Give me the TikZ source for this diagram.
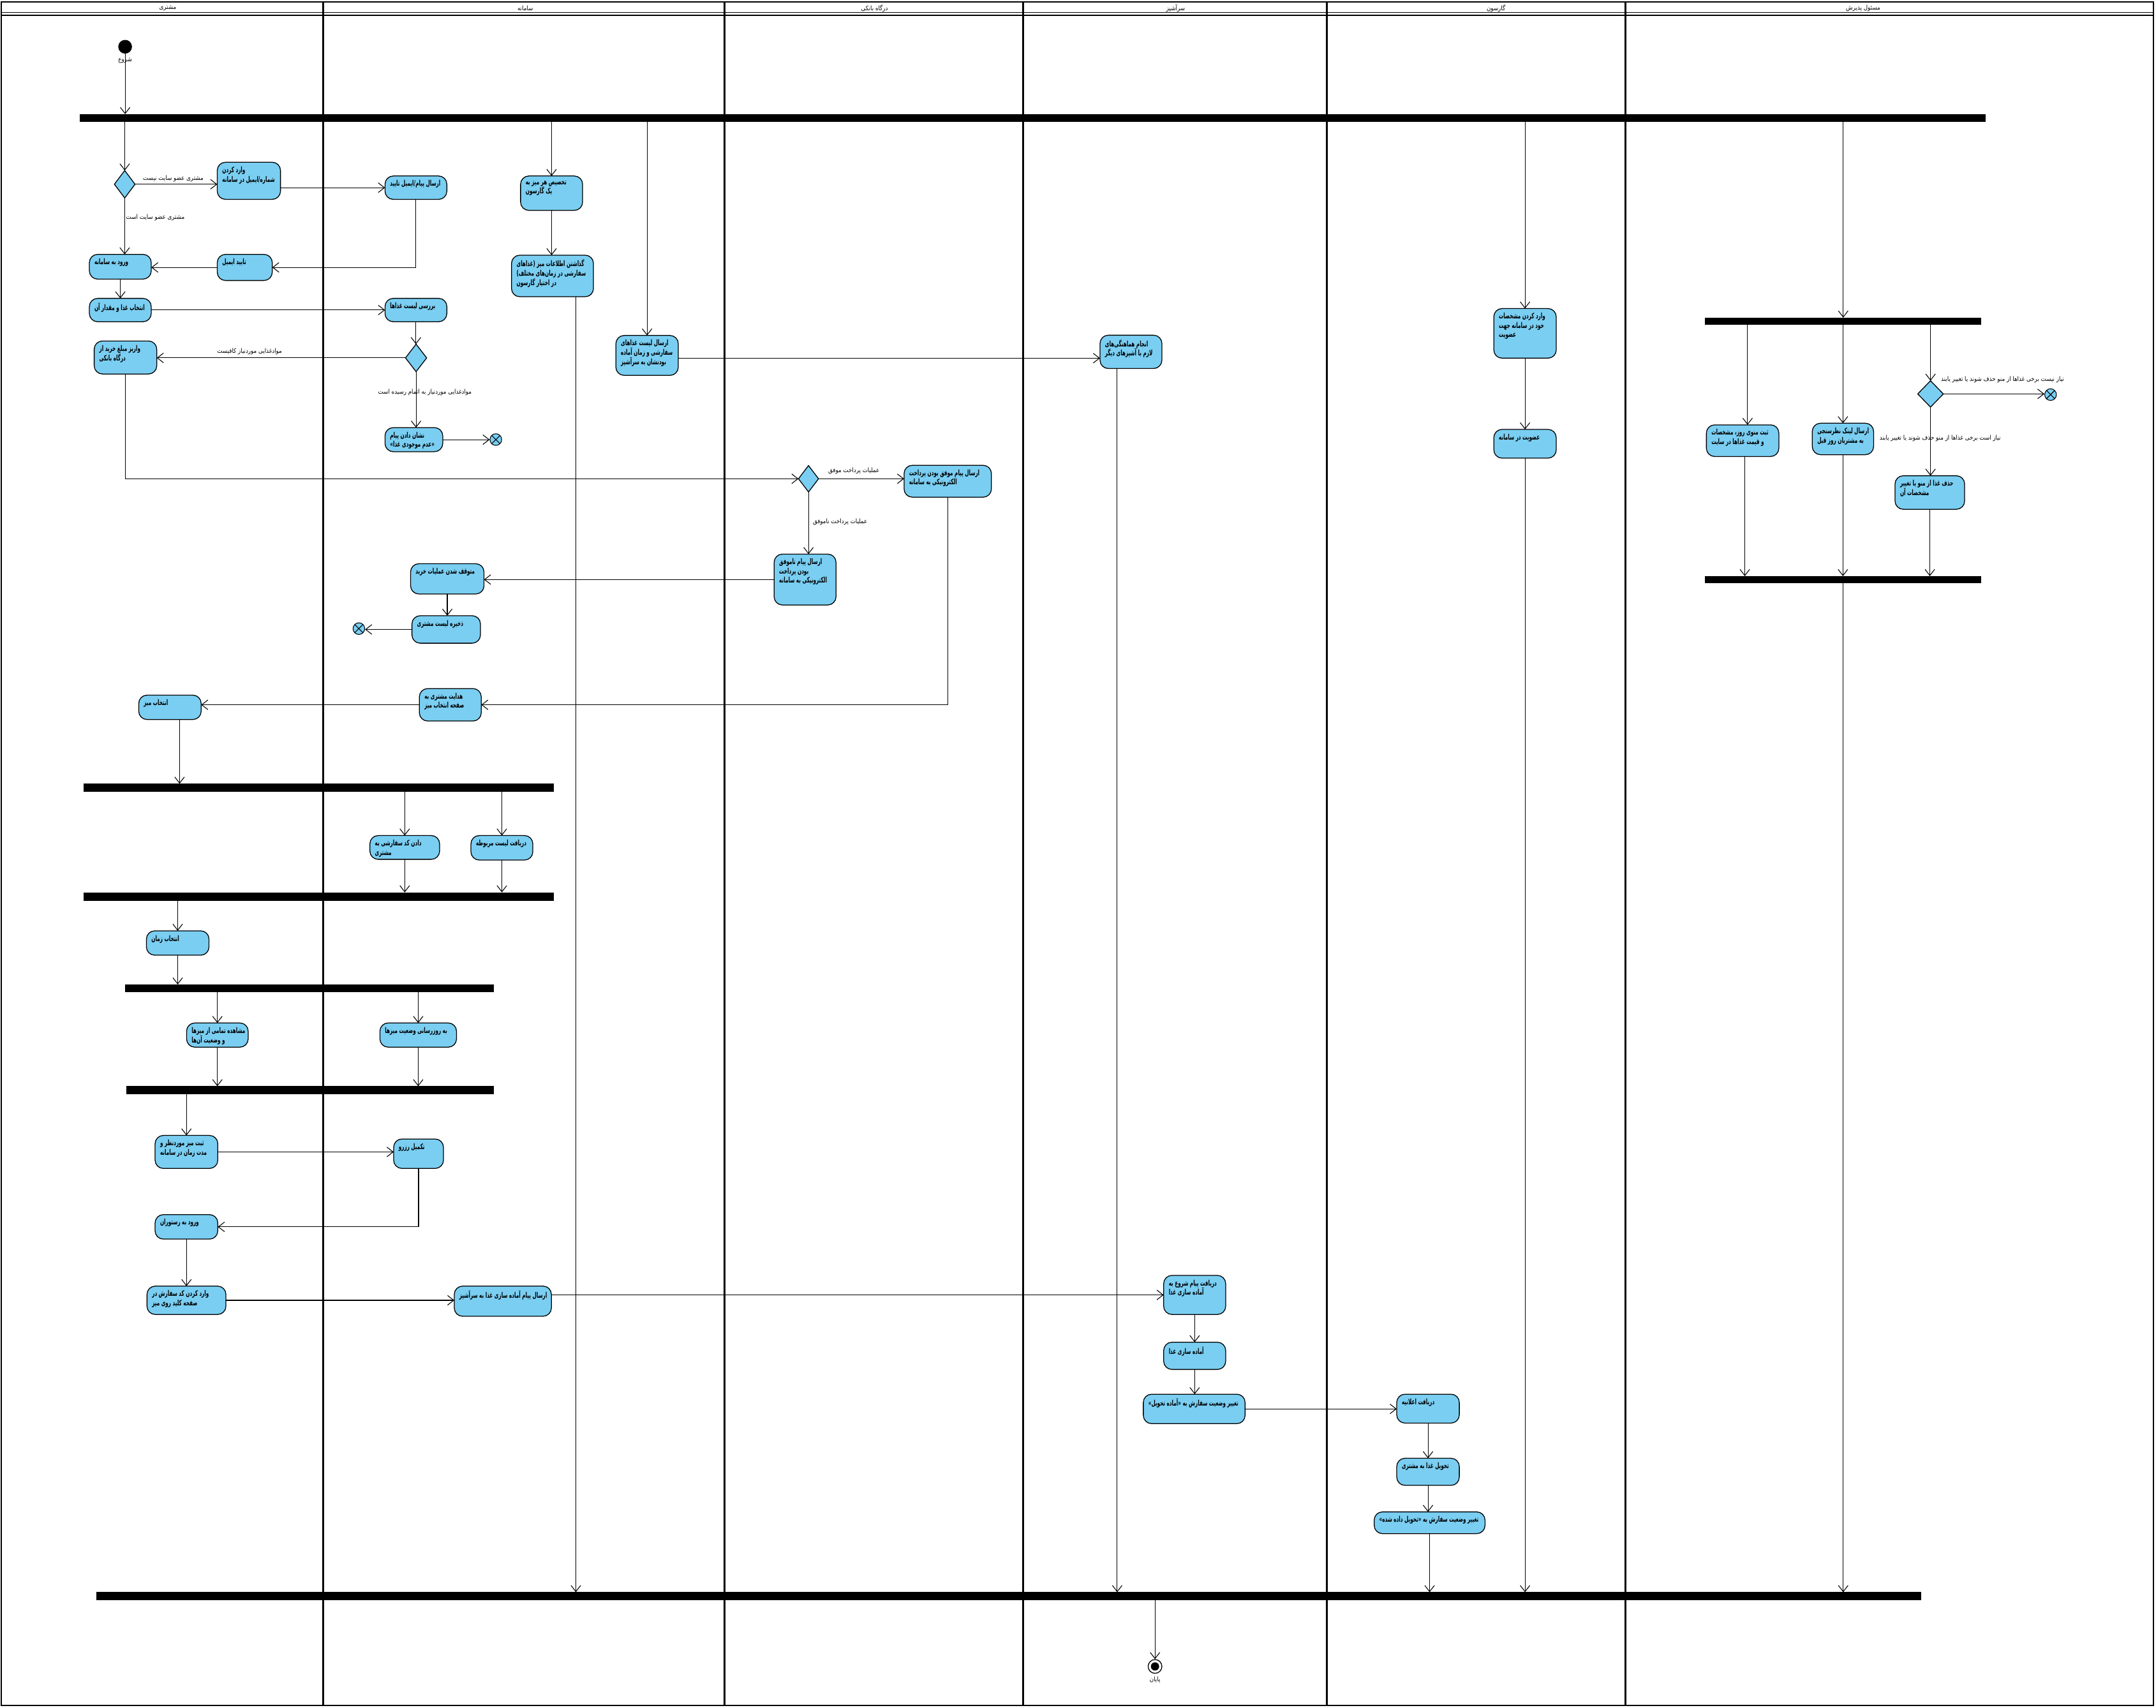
\documentclass[tikz,border=0pt]{standalone}
\usepackage{fontspec}
\setmainfont{DejaVu Sans}
\newfontfamily\arabicfont[Script=Arabic,FakeStretch=0.6]{DejaVu Sans}
\newfontfamily\arabiclab[Script=Arabic,FakeStretch=0.88]{DejaVu Sans}
\TeXXeTstate=1
\usetikzlibrary{arrows.meta,shapes.geometric}
\definecolor{actblue}{RGB}{122,206,242}
\newcommand\fa[1]{{\arabicfont\beginR #1\endR}}
\newcommand\fl[1]{{\arabiclab\beginR #1\endR}}
\newcommand\actbox[6]{%
  \node[act, minimum width={(#4-#2)*1pt}, minimum height={(#5-#3)*1pt}] (#1) at ({(#2+#4)/2},{(#3+#5)/2}) {};
  \node[acttext] (#1-t) at ([xshift=3.5pt,yshift=-3pt]#1.north west) {#6};
}
\newcommand\forkbar[5]{%
  \node[barst, minimum width={(#4-#2)*1pt}, minimum height={(#5-#3)*1pt}] (#1) at ({(#2+#4)/2},{(#3+#5)/2}) {};
}
\tikzset{
  act/.style={draw=black, line width=0.6pt, fill=actblue, rounded corners=6pt, inner sep=0pt, outer sep=0pt},
  acttext/.style={anchor=north west, inner sep=0pt, align=left, font=\fontsize{5.6}{6.8}\selectfont\bfseries},
  barst/.style={fill=black, draw=none, inner sep=0pt, outer sep=0pt, rectangle},
  dec/.style={diamond, draw=black, line width=0.6pt, fill=actblue, inner sep=0pt, outer sep=0pt},
  flow/.style={draw=black, line width=0.5pt, -{Straight Barb[length=4.5pt,width=7pt,line width=0.5pt]}},
  elabel/.style={font=\fontsize{4.6}{5.5}\selectfont, inner sep=0pt},
  hdr/.style={font=\fontsize{4.6}{5.5}\selectfont, inner sep=0pt},
  ffinal/.style={circle, draw=black, line width=0.5pt, fill=actblue, minimum size=8.5pt, inner sep=0pt,
    path picture={\draw[line width=0.5pt] ([shift={(-3pt,-3pt)}]path picture bounding box.center) -- ([shift={(3pt,3pt)}]path picture bounding box.center);
                  \draw[line width=0.5pt] ([shift={(-3pt,3pt)}]path picture bounding box.center) -- ([shift={(3pt,-3pt)}]path picture bounding box.center);}},
  lane/.style={draw=black, line width=1.3pt}
}
\begin{document}
\begin{tikzpicture}[x=1pt,y=-1pt]
\useasboundingbox (0,0) rectangle (1568,1242);
\fill[white] (0,0) rectangle (1568,1242);
% frame and lanes
\draw[line width=1pt] (1,1.5) rectangle (1566,1240.5);
\draw[line width=0.5pt] (1,9) -- (1566,9);
\draw[line width=0.8pt] (1,11) -- (1566,11);
\foreach \lx in {235,527,744,965,1182} { \draw[lane] (\lx,1.5) -- (\lx,1240.5); }
\node[hdr] (h1) at (122,6) {\fl{مشتری}};
\node[hdr] (h2) at (382,6) {\fl{سامانه}};
\node[hdr] (h3) at (636,6) {\fl{درگاه بانکی}};
\node[hdr] (h4) at (855,6) {\fl{سرآشپز}};
\node[hdr] (h5) at (1088,6) {\fl{گارسون}};
\node[hdr] (h6) at (1355,6) {\fl{مسئول پذیرش}};

% start / end
\node[circle, fill=black, minimum size=10pt, inner sep=0pt] (start) at (91,34) {};
\node[elabel] (startl) at (91,44) {\fl{شروع}};
\node[circle, draw=black, line width=0.6pt, fill=white, minimum size=10pt, inner sep=0pt,
  path picture={\fill[black] (path picture bounding box.center) circle[radius=3pt];}] (endn) at (840,1212) {};
\node[elabel] (endl) at (840,1222) {\fl{پایان}};

% bars
\forkbar{bar1}{58}{83}{1444}{88.5}
\forkbar{bar2}{61}{570}{403}{576}
\forkbar{bar3}{61}{649}{403}{655}
\forkbar{bar4}{91}{716}{359}{721.5}
\forkbar{bar5}{92}{790}{359}{795.7}
\forkbar{mbarA}{1240}{231}{1441}{236}
\forkbar{mbarB}{1240}{419}{1441}{424}
\forkbar{fbar}{70}{1158}{1397}{1164}

% decisions
\node[dec, minimum width=15pt, minimum height=20pt] (d1) at (90.7,134) {};
\node[dec, minimum width=15.4pt, minimum height=20pt] (d2) at (302.6,260.3) {};
\node[dec, minimum width=14.6pt, minimum height=19.2pt] (d3) at (588,348.2) {};
\node[dec, minimum width=18.6pt, minimum height=19.2pt] (d4) at (1404,286.5) {};

% flow finals
\node[ffinal] (ff1) at (360.6,319.7) {};
\node[ffinal] (ff2) at (261,457.2) {};
\node[ffinal] (ff4) at (1491.3,287) {};

% activities
\actbox{vared}{158}{118}{204}{145}{\fa{وارد کردن}\\\fa{شماره/ایمیل در سامانه}}
\actbox{ersal}{280}{128}{325}{145}{\fa{ارسال پیام/ایمیل تایید}}
\actbox{taeid}{158}{185}{198}{204}{\fa{تایید ایمیل}}
\actbox{vorud}{65}{185}{110}{203}{\fa{ورود به سامانه}}
\actbox{entekhab}{65}{217}{110}{234}{\fa{انتخاب غذا و مقدار آن}}
\actbox{barrasi}{280}{217}{325}{234}{\fa{بررسی لیست غذاها}}
\actbox{variz}{68.5}{248}{114}{272}{\fa{واریز مبلغ خرید از}\\\fa{درگاه بانکی}}
\actbox{neshan}{280}{311}{322}{328.5}{\fa{نشان دادن پیام}\\\fa{«عدم موجودی غذا»}}
\actbox{takhsis}{378.6}{128}{423.7}{153}{\fa{تخصیص هر میز به}\\\fa{یک گارسون}}
\actbox{gozashtan}{372}{185.6}{431.6}{215.8}{\fa{گذاشتن اطلاعات میز (غذاهای}\\\fa{سفارشی در زمان‌های مختلف)}\\\fa{در اختیار گارسون}}
\actbox{ersallist}{447.9}{244}{493.3}{273}{\fa{ارسال لیست غذاهای}\\\fa{سفارشی و زمان آماده}\\\fa{بودنشان به سرآشپز}}
\actbox{hamahangi}{800}{243.8}{845}{268}{\fa{انجام هماهنگی‌های}\\\fa{لازم با آشپزهای دیگر}}
\actbox{vaut}{1086.4}{224.4}{1131.8}{260.5}{\fa{وارد کردن مشخصات}\\\fa{خود در سامانه جهت}\\\fa{عضویت}}
\actbox{ozviat}{1086.4}{312.3}{1131.8}{333.2}{\fa{عضویت در سامانه}}
\actbox{sabtmenu}{1241}{309}{1293.7}{332}{\fa{ثبت منوی روز، مشخصات}\\\fa{و قیمت غذاها در سایت}}
\actbox{link}{1318}{307.8}{1362.6}{330.7}{\fa{ارسال لینک نظرسنجی}\\\fa{به مشتریان روز قبل}}
\actbox{hazf}{1378.2}{346}{1428.8}{370.4}{\fa{حذف غذا از منو یا تغییر}\\\fa{مشخصات آن}}
\actbox{movafagh}{657.5}{338.4}{721}{361.6}{\fa{ارسال پیام موفق بودن پرداخت}\\\fa{الکترونیکی به سامانه}}
\actbox{namovafagh}{563}{403}{608}{440}{\fa{ارسال پیام ناموفق}\\\fa{بودن پرداخت}\\\fa{الکترونیکی به سامانه}}
\actbox{motevaghef}{298.6}{410}{352}{432}{\fa{متوقف شدن عملیات خرید}}
\actbox{zakhire}{299.6}{447.8}{349.4}{467.8}{\fa{ذخیره لیست مشتری}}
\actbox{hedayat}{305}{500.8}{350}{524.4}{\fa{هدایت مشتری به}\\\fa{صفحه انتخاب میز}}
\actbox{entmiz}{100.9}{505.6}{146.3}{523.3}{\fa{انتخاب میز}}
\actbox{dadan}{269}{607.7}{319.7}{625}{\fa{دادن کد سفارشی به}\\\fa{مشتری}}
\actbox{daryaftlist}{342.5}{607.7}{387.5}{625.5}{\fa{دریافت لیست مربوطه}}
\actbox{entzaman}{106.5}{677}{152}{694.7}{\fa{انتخاب زمان}}
\actbox{moshahede}{135.7}{744}{180.5}{761.6}{\fa{مشاهده تمامی از میزها}\\\fa{و وضعیت آن‌ها}}
\actbox{beruz}{276.3}{744}{332}{761.6}{\fa{به روزرسانی وضعیت میزها}}
\actbox{sabtmiz}{112.8}{825.8}{158.4}{849.8}{\fa{ثبت میز موردنظر و}\\\fa{مدت زمان در سامانه}}
\actbox{takmil}{286.3}{828.4}{322.5}{849.8}{\fa{تکمیل رزرو}}
\actbox{vorudrest}{112.8}{883.4}{158.4}{901.2}{\fa{ورود به رستوران}}
\actbox{varedcode}{106.9}{935.4}{164.3}{956}{\fa{وارد کردن کد سفارش در}\\\fa{صفحه کلید روی میز}}
\actbox{ersalamade}{330.4}{935.4}{401}{957.3}{\fa{ارسال پیام آماده سازی غذا به سرآشپز}}
\actbox{daryaftshoru}{846.3}{927.6}{891.4}{956}{\fa{دریافت پیام شروع به}\\\fa{آماده سازی غذا}}
\actbox{amadesazi}{846.3}{976.2}{891.4}{996}{\fa{آماده سازی غذا}}
\actbox{taghyirA}{831.5}{1014}{905.5}{1035.4}{\fa{تغییر وضعیت سفارش به «آماده تحویل»}}
\actbox{elamie}{1015.8}{1014}{1061.3}{1035}{\fa{دریافت اعلانیه}}
\actbox{tahvil}{1015.8}{1060.6}{1061.3}{1080.3}{\fa{تحویل غذا به مشتری}}
\actbox{taghyirB}{999.4}{1099.6}{1080}{1115.4}{\fa{تغییر وضعیت سفارش به «تحویل داده شده»}}

% edge labels
\node[elabel] (l1) at (126,130) {\fl{مشتری عضو سایت نیست}};
\node[elabel] (l2) at (113,158) {\fl{مشتری عضو سایت است}};
\node[elabel] (l3) at (181.5,255.7) {\fl{موادغذایی موردنیاز کافیست}};
\node[elabel] (l4) at (309,285.5) {\fl{موادغذایی موردنیاز به اتمام رسیده است}};
\node[elabel] (l5) at (621,342.5) {\fl{عملیات پرداخت موفق}};
\node[elabel] (l6) at (611,379.4) {\fl{عملیات پرداخت ناموفق}};
\node[elabel] (l7) at (1456.4,276) {\fl{نیاز نیست برخی غذاها از منو حذف شوند یا تغییر یابند}};
\node[elabel] (l8) at (1411,318.6) {\fl{نیاز است برخی غذاها از منو حذف شوند یا تغییر یابند}};

% helper coordinates
\coordinate (c1) at ([xshift=7pt]entmiz.south);
\coordinate (g1) at ([xshift=17pt]gozashtan.south);
\coordinate (e1) at ([yshift=-2pt]ersallist.east);
\coordinate (hh) at ([xshift=-10pt]hamahangi.south);
\coordinate (m1) at ([xshift=3.6pt]sabtmenu.north);
\coordinate (m2) at ([xshift=1.6pt]sabtmenu.south);

% connectors
\draw[flow] (start.south) -- (start.south |- bar1.north);
\draw[flow] (bar1.south -| d1.north) -- (d1.north);
\draw[flow] (bar1.south -| takhsis.north) -- (takhsis.north);
\draw[flow] (bar1.south -| ersallist.north) -- (ersallist.north);
\draw[flow] (bar1.south -| vaut.north) -- (vaut.north);
\draw[flow] (bar1.south -| mbarA.north) -- (mbarA.north);
\draw[flow] (d1.east) -- (d1.east -| vared.west);
\draw[flow] (d1.south) -- (d1.south |- vorud.north);
\draw[flow] (vared.east |- ersal.west) -- (ersal.west);
\draw[flow] (ersal.south) |- (taeid.east);
\draw[flow] (taeid.west) -- (taeid.west -| vorud.east);
\draw[flow] (vorud.south) -- (entekhab.north);
\draw[flow] (entekhab.east) -- (entekhab.east -| barrasi.west);
\draw[flow] (barrasi.south) -- (barrasi.south |- d2.north);
\draw[flow] (d2.west) -- (d2.west -| variz.east);
\draw[flow] (d2.south) -- (d2.south |- neshan.north);
\draw[flow] (neshan.east) -- (neshan.east -| ff1.west);
\draw[flow] (variz.south) |- (d3.west);
\draw[flow] (d3.east) -- (d3.east -| movafagh.west);
\draw[flow] (d3.south) -- (d3.south |- namovafagh.north);
\draw[flow] (namovafagh.west) -- (namovafagh.west -| motevaghef.east);
\draw[flow] (motevaghef.south) -- (motevaghef.south |- zakhire.north);
\draw[flow] (zakhire.west) -- (zakhire.west -| ff2.east);
\draw[flow] (movafagh.south) |- (hedayat.east);
\draw[flow] (hedayat.west) -- (hedayat.west -| entmiz.east);
\draw[flow] (c1) -- (c1 |- bar2.north);
\draw[flow] (bar2.south -| dadan.north) -- (dadan.north);
\draw[flow] (bar2.south -| daryaftlist.north) -- (daryaftlist.north);
\draw[flow] (dadan.south) -- (dadan.south |- bar3.north);
\draw[flow] (daryaftlist.south) -- (daryaftlist.south |- bar3.north);
\draw[flow] (bar3.south -| entzaman.north) -- (entzaman.north);
\draw[flow] (entzaman.south) -- (entzaman.south |- bar4.north);
\draw[flow] (bar4.south -| moshahede.north) -- (moshahede.north);
\draw[flow] (bar4.south -| beruz.north) -- (beruz.north);
\draw[flow] (moshahede.south) -- (moshahede.south |- bar5.north);
\draw[flow] (beruz.south) -- (beruz.south |- bar5.north);
\draw[flow] (bar5.south -| sabtmiz.north) -- (sabtmiz.north);
\draw[flow] (sabtmiz.east) -- (sabtmiz.east -| takmil.west);
\draw[flow] (takmil.south) |- (vorudrest.east);
\draw[flow] (vorudrest.south) -- (varedcode.north);
\draw[flow] (varedcode.east) -- (varedcode.east -| ersalamade.west);
\draw[flow] (ersalamade.east |- daryaftshoru.west) -- (daryaftshoru.west);
\draw[flow] (daryaftshoru.south) -- (amadesazi.north);
\draw[flow] (amadesazi.south) -- (amadesazi.south |- taghyirA.north);
\draw[flow] (taghyirA.east) -- (taghyirA.east -| elamie.west);
\draw[flow] (elamie.south) -- (tahvil.north);
\draw[flow] (tahvil.south) -- (tahvil.south |- taghyirB.north);
\draw[flow] (taghyirB.south) -- (taghyirB.south |- fbar.north);
\draw[flow] (takhsis.south) -- (takhsis.south |- gozashtan.north);
\draw[flow] (g1) -- (g1 |- fbar.north);
\draw[flow] (e1) -- (e1 -| hamahangi.west);
\draw[flow] (hh) -- (hh |- fbar.north);
\draw[flow] (vaut.south) -- (vaut.south |- ozviat.north);
\draw[flow] (ozviat.south) -- (ozviat.south |- fbar.north);
\draw[flow] (mbarA.south -| m1) -- (m1);
\draw[flow] (mbarA.south -| link.north) -- (link.north);
\draw[flow] (mbarA.south -| d4.north) -- (d4.north);
\draw[flow] (d4.east) -- (d4.east -| ff4.west);
\draw[flow] (d4.south) -- (d4.south |- hazf.north);
\draw[flow] (m2) -- (m2 |- mbarB.north);
\draw[flow] (link.south) -- (link.south |- mbarB.north);
\draw[flow] (hazf.south) -- (hazf.south |- mbarB.north);
\draw[flow] (mbarB.south) -- (mbarB.south |- fbar.north);
\draw[flow] (fbar.south -| endn.north) -- (endn.north);
\end{tikzpicture}
\end{document}
